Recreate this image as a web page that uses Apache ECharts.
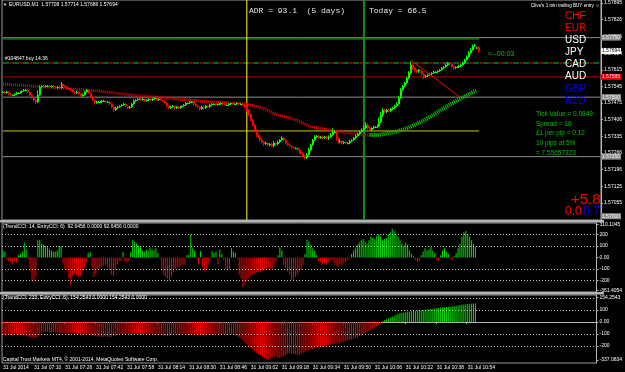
<!DOCTYPE html>
<html>
<head>
<meta charset="utf-8">
<script src="https://cdn.jsdelivr.net/npm/echarts@6/dist/echarts.min.js"></script>
<style>
html, body { margin: 0; padding: 0; background: #000; }
#chart { width: 625px; height: 372px; }
</style>
</head>
<body>
<div id="chart"></div>
<script>
// EURUSD M1 closes, one per minute from 06:54
var closes = [
	1.57522,1.57517,1.57522,1.57513,1.57509,1.57509,1.57513,1.57517,1.57517,1.57522,
	1.57526,1.57530,1.57530,1.57522,1.57509,1.57496,1.57488,1.57480,1.57509,1.57543,
	1.57547,1.57543,1.57547,1.57547,1.57543,1.57547,1.57543,1.57538,1.57543,1.57538,
	1.57555,1.57547,1.57543,1.57538,1.57534,1.57530,1.57522,1.57517,1.57522,1.57513,
	1.57505,1.57509,1.57522,1.57530,1.57517,1.57501,1.57488,1.57475,1.57480,1.57480,
	1.57480,1.57484,1.57484,1.57480,1.57480,1.57471,1.57459,1.57446,1.57454,1.57459,
	1.57463,1.57467,1.57471,1.57463,1.57454,1.57459,1.57471,1.57484,1.57488,1.57492,
	1.57492,1.57488,1.57492,1.57484,1.57488,1.57492,1.57488,1.57492,1.57496,1.57488,
	1.57492,1.57488,1.57484,1.57475,1.57463,1.57454,1.57459,1.57463,1.57454,1.57459,
	1.57454,1.57459,1.57463,1.57467,1.57475,1.57475,1.57480,1.57480,1.57471,1.57463,
	1.57459,1.57450,1.57459,1.57454,1.57463,1.57459,1.57467,1.57471,1.57471,1.57467,
	1.57471,1.57471,1.57475,1.57471,1.57467,1.57467,1.57471,1.57475,1.57471,1.57471,
	1.57475,1.57471,1.57471,1.57467,1.57459,1.57446,1.57429,1.57404,1.57383,1.57362,
	1.57341,1.57333,1.57320,1.57312,1.57303,1.57307,1.57299,1.57303,1.57295,1.57307,
	1.57303,1.57312,1.57320,1.57328,1.57320,1.57307,1.57299,1.57295,1.57291,1.57286,
	1.57286,1.57278,1.57270,1.57265,1.57253,1.57244,1.57257,1.57278,1.57299,1.57320,
	1.57333,1.57337,1.57328,1.57333,1.57328,1.57333,1.57328,1.57333,1.57341,1.57354,
	1.57354,1.57328,1.57312,1.57316,1.57307,1.57312,1.57307,1.57307,1.57316,1.57320,
	1.57328,1.57337,1.57345,1.57354,1.57362,1.57370,1.57383,1.57370,1.57362,1.57370,
	1.57375,1.57375,1.57379,1.57396,1.57425,1.57446,1.57438,1.57446,1.57442,1.57450,
	1.57454,1.57463,1.57471,1.57496,1.57530,1.57547,1.57559,1.57580,1.57601,1.57635,
	1.57622,1.57614,1.57606,1.57614,1.57610,1.57597,1.57585,1.57589,1.57593,1.57597,
	1.57601,1.57606,1.57606,1.57610,1.57614,1.57622,1.57627,1.57635,1.57643,1.57639,
	1.57627,1.57622,1.57627,1.57627,1.57631,1.57635,1.57643,1.57656,1.57669,1.57685,
	1.57698,1.57715,1.57719,1.57708,1.57694
];
// wick length above / below the body, in points
var wickUp = [
	4,3,5,3,4,2,3,5,4,3, 3,4,5,3,2,3,2,4,20,6, 4,5,3,4,6,3,4,3,5,4, 8,3,4,2,3,4,3,2,5,3,
	3,6,5,4,3,2,3,2,5,4, 4,3,5,2,4,3,2,3,6,4, 3,4,5,3,2,4,5,6,4,3, 4,3,5,4,3,4,3,5,4,3,
	3,4,2,3,2,3,5,4,3,4, 3,4,3,5,4,3,4,5,3,2, 3,2,6,3,4,3,5,4,3,4, 3,4,3,4,3,2,4,3,4,3,
	4,3,4,2,3,4,3,2,3,4, 3,4,3,5,4,6,3,4,5,8, 5,6,4,8,5,3,4,3,2,3, 3,2,3,4,3,5,8,10,6,5,
	6,4,5,4,5,4,5,6,8,15, 5,3,4,5,3,4,3,4,5,4, 5,6,5,6,8,10,12,8,6,4, 5,4,6,20,12,8,6,5,6,5,
	6,5,8,10,8,6,5,6,8,15, 6,5,4,5,4,3,4,5,4,5, 4,5,4,3,4,5,4,6,5,4, 3,4,3,4,5,4,6,5,6,8,
	8,6,5,3,6
];
var wickDown = [
	3,4,3,5,4,3,4,3,4,3, 4,3,3,4,5,4,6,10,4,3, 3,4,3,5,3,4,3,4,3,4, 3,4,3,4,3,5,3,4,3,4,
	5,4,3,4,3,5,4,6,3,4, 3,4,3,4,3,5,6,8,4,3, 4,3,4,5,4,3,4,3,4,3, 3,4,3,4,3,4,3,4,3,4,
	4,3,4,5,6,5,4,3,5,4, 4,3,4,3,4,3,4,3,5,4, 5,6,4,5,4,3,4,3,4,3, 3,4,3,4,3,4,3,4,3,4,
	3,4,3,4,5,6,8,6,5,6, 8,6,5,6,8,5,6,5,4,5, 4,5,4,3,5,6,5,4,6,5, 6,5,8,6,5,6,4,3,4,3,
	4,5,4,3,5,4,6,8,4,3, 6,10,8,5,6,5,4,6,4,3, 3,4,3,4,3,5,4,6,4,5, 4,5,4,3,5,8,6,5,4,5,
	4,5,4,3,5,4,6,5,4,6, 8,6,5,4,5,6,8,5,4,3, 4,3,4,5,4,3,4,3,4,5, 6,8,5,4,3,4,3,4,3,4,
	4,3,5,6,8
];

// moving average, [bar, price]
var maFalling = [[0,1.57555],[14,1.57547],[29,1.57538],[49,1.57526],[66,1.57509],[85,1.57496],[100,1.57484],[117,1.57475],[125,1.57471],[133,1.57454],[141,1.57425],[150,1.57404],[158,1.57375],[167,1.57362],[177,1.57349],[185,1.57341],[192,1.57341]];
var maRising = [[188,1.57341],[192,1.57341],[201,1.57354],[209,1.57375],[218,1.57412],[226,1.57454],[235,1.57496],[243,1.57530]];

// CCI(14) and CCI(233)
var cciFast = [
	60,50,-20,-35,-40,-60,-30,-45,20,30,
	50,130,70,-20,-120,-210,-200,-160,150,155,
	120,110,100,90,70,60,50,50,60,100,
	100,-50,-100,-120,-180,-240,-160,-140,-150,-170,
	-160,-120,-90,-40,40,50,-90,-170,-140,-100,
	-90,-80,-70,-60,-80,-110,-150,-160,-110,-60,
	-30,-30,50,-40,-45,-30,50,150,140,120,
	100,90,60,50,70,60,90,70,60,80,
	40,-10,-120,-150,-170,-185,-209,-165,-130,-100,
	-90,-78,-70,-64,-64,20,25,200,80,60,
	-10,-60,55,-80,-120,-110,-60,-20,55,40,
	50,-60,70,30,-20,-100,-110,-100,80,50,
	40,-10,-150,-180,-260,-238,-209,-180,-160,-150,
	-136,-130,-122,-122,-115,-107,-100,-93,-107,-93,
	-60,-35,20,90,60,-64,-93,-122,-150,-194,
	-194,-170,-150,-120,-107,-64,30,154,140,110,
	80,60,20,-30,-40,-60,-50,-60,-40,-30,
	-20,-50,-70,-80,-60,-70,-50,-40,-20,-10,
	30,60,80,110,130,150,160,140,120,150,
	180,170,160,190,200,180,150,160,170,200,
	220,250,230,200,180,150,120,100,130,110,
	60,30,10,-20,-40,-30,20,50,80,60,
	70,90,60,40,-20,-30,20,60,80,50,
	30,-10,-20,10,40,80,120,180,220,230,
	200,180,150,120,92.6
];
var cciSlow = [
	-105,-108,-110,-107,-109,-112,-108,-106,-110,-108,
	-109,-112,-115,-120,-128,-132,-135,-130,-125,-110,
	-90,-85,-83,-82,-85,-84,-86,-88,-90,-92,
	-94,-92,-95,-97,-93,-90,-92,-95,-98,-100,
	-102,-99,-97,-100,-104,-108,-112,-115,-118,-120,
	-122,-124,-120,-118,-122,-125,-123,-118,-112,-108,
	-105,-102,-100,-98,-97,-99,-96,-95,-97,-98,
	-100,-99,-101,-98,-97,-100,-102,-99,-98,-101,
	-103,-106,-110,-112,-115,-118,-114,-110,-108,-106,
	-105,-104,-102,-100,-101,-103,-106,-108,-106,-104,
	-106,-108,-110,-108,-106,-105,-104,-103,-104,-105,
	-104,-103,-102,-104,-105,-106,-104,-103,-105,-108,
	-110,-118,-128,-140,-155,-170,-185,-200,-215,-230,
	-245,-258,-270,-280,-290,-300,-310,-317,-305,-295,
	-290,-285,-295,-300,-290,-280,-275,-265,-260,-258,
	-262,-270,-275,-270,-260,-255,-250,-240,-235,-230,
	-225,-220,-215,-212,-208,-205,-200,-198,-195,-190,
	-185,-182,-180,-178,-175,-170,-165,-160,-155,-150,
	-145,-140,-132,-125,-118,-110,-100,-92,-85,-76,
	-68,-58,-48,-38,-25,-12,5,15,22,30,
	38,45,52,60,68,72,76,80,82,85,
	88,90,92,93,95,96,98,100,102,104,
	106,108,110,112,114,116,118,120,122,124,
	126,128,130,132,135,138,140,143,146,148,
	150,152,153,154,154.3
];

var priceTicks = [1.57055, 1.57125, 1.57196, 1.57266, 1.57335, 1.57406, 1.57475, 1.57545, 1.57615, 1.57684, 1.57755, 1.57826, 1.57895];
var fastTickValues = [287, 200, 100, 0, -100, -200, -285];
var fastTickLabels = ['310.1045', '200', '100', '0.00', '-100', '-200', '-361.4054'];
var slowTickValues = [205, 100, 0, -100, -200, -317];
var slowTickLabels = ['154.2543', '100', '0.00', '-100', '-200', '-337.0834'];

var currencies = ['CHF', 'EUR', 'USD', 'JPY', 'CAD', 'AUD', 'GBP', 'NZD'];
var currencyColors = ['#ff0000', '#ff0000', '#ffffff', '#ffffff', '#ffffff', '#ffffff', '#0000ff', '#0000ff'];
var infoLines = ['Tick Value = 0.0849', 'Spread = 16', '£1 per pip = 0.12', '10 pips at 5%', '= 7.55657323'];

var slotCount = 307;
var lastBar = closes.length - 1;
var startMinute = 6 * 60 + 54;
var times = [];
for (var i = 0; i < slotCount; i++) {
	var m = startMinute + i;
	var hh = Math.floor(m / 60), mm = m % 60;
	times.push((hh < 10 ? '0' : '') + hh + ':' + (mm < 10 ? '0' : '') + mm);
}

var UP = '#00ff00', DOWN = '#ff0000';
// [bar, open, close, low, high]
var bars = closes.map(function (c, i) {
	var o = i ? closes[i - 1] : c;
	if (i === lastBar - 1) o = 1.57708;
	var lo = Math.min(o, c) - wickDown[i] / 1e5;
	var hi = Math.max(o, c) + wickUp[i] / 1e5;
	return [i, o, c, lo, hi];
});

function renderBar(params, api) {
	var i = api.value(0);
	var o = api.value(1), c = api.value(2);
	var pO = api.coord([i, o]), pC = api.coord([i, c]);
	var pL = api.coord([i, api.value(3)]), pH = api.coord([i, api.value(4)]);
	var px = Math.round(pO[0]);
	var col = c >= o ? UP : DOWN;
	var top = Math.min(pO[1], pC[1]), h = Math.max(Math.abs(pO[1] - pC[1]), 1);
	return {
		type: 'group',
		children: [
			{ type: 'line', shape: { x1: px - 0.5, y1: pH[1], x2: px - 0.5, y2: pL[1] }, style: { stroke: col, lineWidth: 1 } },
			{ type: 'rect', shape: { x: px - 1, y: top, width: 2, height: h }, style: { fill: col } }
		]
	};
}

var chart = echarts.init(document.getElementById('chart'));
var small = '5px "Liberation Sans"';
var yMin = 1.56984, yMax = 1.57908;

// horizontal / vertical objects as two-point line series
function hline(v, from, to, color, width, dash, box) {
	var s = {
		type: 'line', xAxisIndex: 0, yAxisIndex: 0, symbol: 'none', silent: true, z: 2,
		data: [[from, v], [to, v]],
		lineStyle: { color: color, width: width, type: dash ? dash.type : 'solid', dashOffset: dash ? dash.offset : 0, opacity: width ? 1 : 0 }
	};
	if (box) {
		s.endLabel = { show: true, distance: 1, formatter: v.toFixed(5), backgroundColor: box[0], color: box[1], fontSize: 5, padding: [1, 1, 0, 1], fontFamily: 'Liberation Sans' };
	}
	return s;
}
function vline(idx, color, width) {
	return {
		type: 'line', xAxisIndex: 0, yAxisIndex: 0, symbol: 'none', silent: true, z: 3,
		data: [[idx, yMin], [idx, yMax]], lineStyle: { color: color, width: width }
	};
}

var texts = [
	{ x: 3, y: 5, t: '\u25BC', c: '#ffffff', f: '4px "Liberation Sans"' },
	{ x: 9, y: 5, t: 'EURUSD,M1  1.57708 1.57714 1.57686 1.57694', c: '#ffffff', f: small },
	{ x: 5, y: 59, t: '#104847 buy 14.36', c: '#ffffff', f: small },
	{ x: 249, y: 11, t: 'ADR = 93.1  (5 days)', c: '#e8e8e8', f: '8px "Liberation Mono"' },
	{ x: 369, y: 11, t: 'Today = 66.5', c: '#e8e8e8', f: '8px "Liberation Mono"' },
	{ x: 531, y: 6, t: 'Clive\'s 1 min trailing BUY entry \u263A', c: '#ffffff', f: '4.6px "Liberation Sans"' },
	{ x: 488, y: 54, t: '<--00:03', c: '#00c800', f: '7px "Liberation Sans"' },
	{ x: 571, y: 200, t: '+5.8', c: '#ff0000', f: '15px "Liberation Sans"' },
	{ x: 565, y: 212, t: '0.0', c: '#ff0000', f: '12px "Liberation Sans"' },
	{ x: 583, y: 212, t: '0.7', c: '#0000ff', f: '12px "Liberation Sans"' },
	{ x: 3, y: 227, t: '(TrendCCI: 14, EntryCCI: 6)  92.6456 0.0000 92.6456 0.0000', c: '#ffffff', f: small },
	{ x: 3, y: 298, t: '(TrendCCI: 233, EntryCCI: 6)  154.2543 0.0000 154.2543 0.0000', c: '#ffffff', f: small },
	{ x: 3, y: 360, t: 'Capital Trust Markets MT4, \u00A9 2001-2014, MetaQuotes Software Corp.', c: '#ffffff', f: small }
];
var currencyY = [16, 28, 40, 52, 64, 76, 89, 101];
currencies.forEach(function (c, i) {
	texts.push({ x: 565, y: currencyY[i], t: c, c: currencyColors[i], f: '10px "Liberation Sans"' });
});
infoLines.forEach(function (s, i) {
	texts.push({ x: 536, y: 114 + i * 9.8, t: s, c: '#00c000', f: '6.5px "Liberation Sans"' });
});

var graphics = texts.map(function (d) {
	return { type: 'text', x: d.x, y: d.y, silent: true, z: 20, style: { text: d.t, fill: d.c, font: d.f, verticalAlign: 'middle' } };
});
graphics.push({ type: 'rect', shape: { x: 0, y: 220, width: 604, height: 2.5 }, style: { fill: '#b4b4b4' }, z: 15 });
graphics.push({ type: 'rect', shape: { x: 0, y: 292, width: 604, height: 2.5 }, style: { fill: '#b4b4b4' }, z: 15 });

function showTick(idx) { return idx % 16 === 0 && idx <= lastBar; }
function xAx(gi, labels) {
	return {
		type: 'category', gridIndex: gi, data: times, boundaryGap: true,
		axisLine: { show: labels, lineStyle: { color: '#b4b4b4' } },
		axisTick: { show: labels, interval: showTick, length: 2, lineStyle: { color: '#b4b4b4' } },
		axisLabel: {
			show: labels, interval: showTick, align: 'left', color: '#ffffff', fontSize: 5, margin: 2,
			fontFamily: 'Liberation Sans',
			formatter: function (v, idx) { return idx === 0 ? '31 Jul 2014' : '31 Jul ' + v; }
		},
		splitLine: { show: false }
	};
}
function yAx(gi, min, max, values, labels) {
	return {
		type: 'value', gridIndex: gi, position: 'right', min: min, max: max, scale: true,
		axisLine: { show: true, lineStyle: { color: '#b4b4b4' } },
		axisTick: { show: true, length: 2, customValues: values, lineStyle: { color: '#b4b4b4' } },
		axisLabel: {
			color: '#ffffff', fontSize: 5, margin: 3, fontFamily: 'Liberation Sans',
			customValues: values, showMinLabel: true, showMaxLabel: true,
			formatter: function (v) {
				var k = values.indexOf(v);
				return labels ? labels[k] : v.toFixed(5);
			}
		},
		splitLine: { show: false }
	};
}
function dotted(values) {
	return {
		silent: true, symbol: 'none', label: { show: false },
		lineStyle: { color: '#c8c8c8', type: [1, 2], width: 1 },
		data: values.map(function (v) { return { yAxis: v }; })
	};
}

var series = [
	hline(1.5775, 0, slotCount - 1, '#8c8c8c', 1, null, ['#8c8c8c', '#f0f0f0']),
	hline(1.575, 0, slotCount - 1, '#8c8c8c', 1, null, ['#8c8c8c', '#f0f0f0']),
	hline(1.5725, 0, slotCount - 1, '#8c8c8c', 1, null, ['#8c8c8c', '#f0f0f0']),
	hline(1.57585, 0, slotCount - 1, '#c00000', 1, null, ['#e00000', '#ffd8d8']),
	hline(1.57694, 0, slotCount - 1, '#000', 0, null, ['#ffffff', '#000000']),
	hline(1.57, 0, slotCount - 1, '#000', 0, null, ['#8c8c8c', '#f0f0f0']),
	hline(1.57643, 0, slotCount - 1, '#0a640a', 2, { type: [6, 4], offset: 0 }, null),
	hline(1.57643, 0, slotCount - 1, '#8b0000', 2, { type: [3, 7], offset: 3.5 }, null),
	hline(1.57745, 0, lastBar, '#0b6e0b', 2, null, null),
	hline(1.57358, 0, lastBar, '#c8c800', 1, null, null),
	vline(125, '#ffff00', 1),
	vline(185, '#109010', 2),
	{
		type: 'line', xAxisIndex: 0, yAxisIndex: 0, symbol: 'none', silent: true, z: 6,
		data: [[209, 1.57656], [234, 1.57501]], lineStyle: { color: '#ff0000', width: 1 }
	},
	{
		type: 'custom', xAxisIndex: 0, yAxisIndex: 0, data: bars, z: 5, silent: true,
		encode: { x: 0, y: [1, 2, 3, 4] }, renderItem: renderBar
	},
	{
		type: 'line', xAxisIndex: 0, yAxisIndex: 0, data: maFalling, symbol: 'none', z: 4,
		lineStyle: { color: '#e00000', width: 3, type: [1, 1] }
	},
	{
		type: 'line', xAxisIndex: 0, yAxisIndex: 0, data: maRising, symbol: 'none', z: 4,
		lineStyle: { color: '#00d000', width: 4, type: [1, 1] }
	},
	{
		type: 'bar', xAxisIndex: 1, yAxisIndex: 1, data: cciFast, barWidth: 1,
		itemStyle: { color: function (p) { return p.value >= 0 ? '#00e000' : '#ee0000'; } },
		markLine: dotted([200, 100, -100, -200])
	},
	{
		type: 'bar', xAxisIndex: 2, yAxisIndex: 2, data: cciSlow, barWidth: 1,
		itemStyle: { color: function (p) { return p.value >= 0 ? '#00e000' : '#ee0000'; } },
		markLine: dotted([200, 100, -100, -200])
	}
];

var option = {
	backgroundColor: '#000000',
	animation: false,
	grid: [
		{ left: 2, right: 21, top: 0, height: 220, show: true, borderColor: '#9a9a9a', borderWidth: 1 },
		{ left: 2, right: 21, top: 223, height: 69, show: true, borderColor: '#9a9a9a', borderWidth: 1 },
		{ left: 2, right: 21, top: 295, height: 68, show: true, borderColor: '#9a9a9a', borderWidth: 1 }
	],
	xAxis: [xAx(0, false), xAx(1, false), xAx(2, true)],
	yAxis: [
		yAx(0, yMin, yMax, priceTicks, null),
		yAx(1, -300, 300, fastTickValues, fastTickLabels),
		yAx(2, -341.7, 225, slowTickValues, slowTickLabels)
	],
	graphic: graphics,
	series: series
};
chart.setOption(option);
</script>
</body>
</html>
